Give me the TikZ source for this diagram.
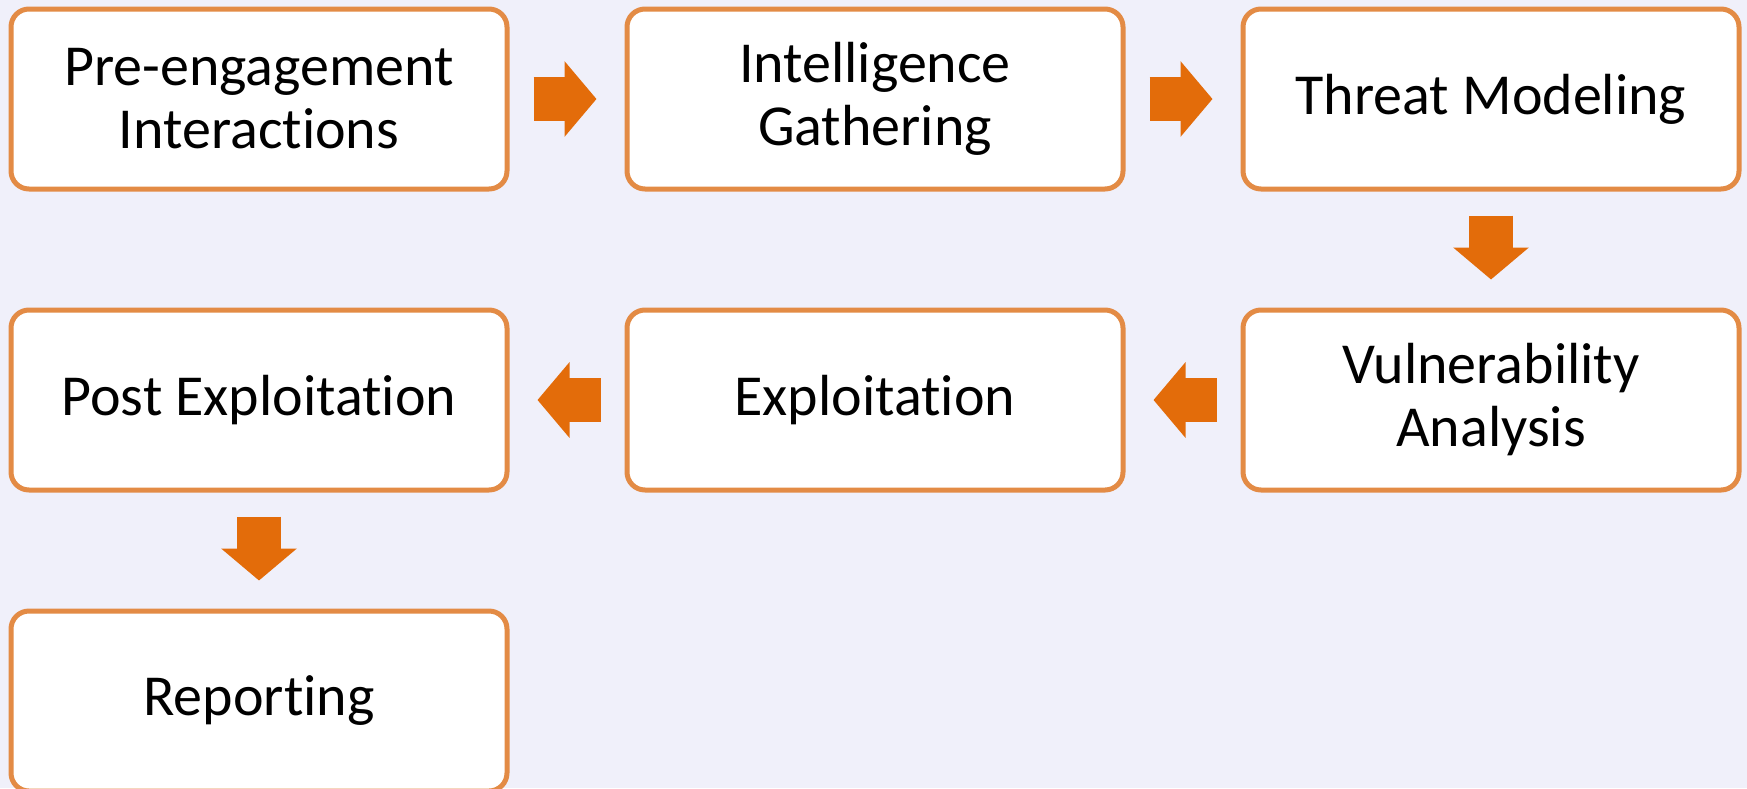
\documentclass[tikz,border=0pt]{standalone}
\usepackage{fontspec}
\setmainfont[Ligatures={NoCommon,NoContextual},Contextuals=NoAlternate]{Carlito}
\usepackage{xcolor}
\usetikzlibrary{arrows.meta,positioning,calc}

\definecolor{bgc}{RGB}{240,240,250}
\definecolor{boxc}{RGB}{227,139,69}
\definecolor{arrowc}{RGB}{227,108,10}

\begin{document}
\begin{tikzpicture}[
  x=1pt, y=1pt,
  node distance=116pt and 115pt,
  every node/.style={font=\fontsize{58}{63}\selectfont},
  phase/.style={draw=boxc, fill=white, line width=5pt, rounded corners=18pt,
    minimum width=496pt, minimum height=180pt, align=center},
  flow/.style={draw=arrowc, line width=44pt,
    -{Triangle[length=32pt,width=74pt]}, shorten <=24pt, shorten >=28pt}
]
  \fill[bgc] (0,0) rectangle (1747,-788);
  \useasboundingbox (0,0) rectangle (1747,-788);

  \node[phase] (pre) at (259,-99) {Pre-engagement\\Interactions};
  \node[phase, right=of pre] (intel) {Intelligence\\Gathering};
  \node[phase, right=of intel] (threat) {Threat Modeling};
  \node[phase, below=of threat] (vuln) {Vulnerability\\Analysis};
  \node[phase, below=of intel] (exploit) {Exploitation};
  \node[phase, below=of pre] (post) {Post Exploitation};
  \node[phase, below=of post] (report) {Reporting};

  \draw[flow] (pre) -- (intel);
  \draw[flow] (intel) -- (threat);
  \draw[flow] (threat) -- (vuln);
  \draw[flow] (vuln) -- (exploit);
  \draw[flow] (exploit) -- (post);
  \draw[flow] (post) -- (report);
\end{tikzpicture}
\end{document}
